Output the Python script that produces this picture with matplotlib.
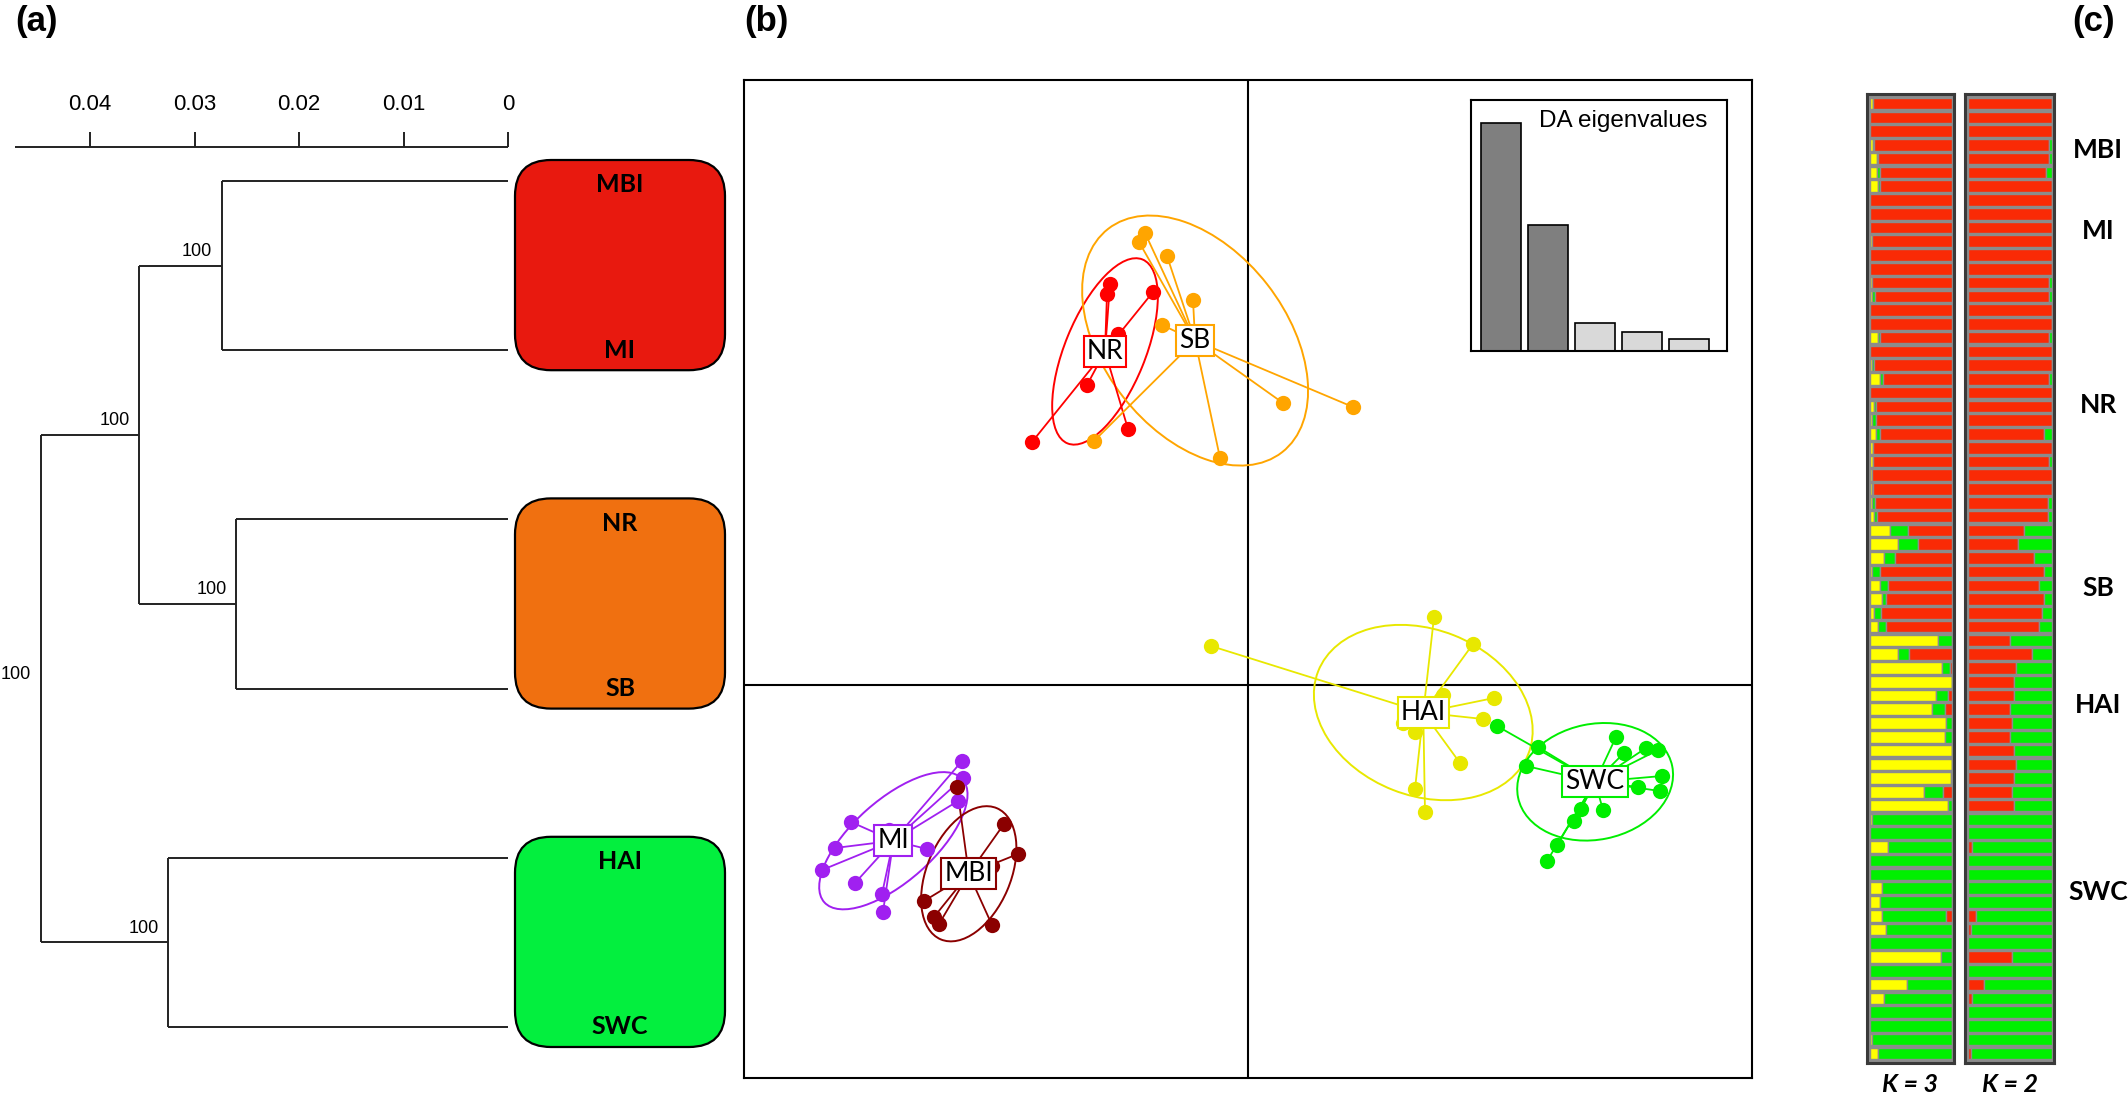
import numpy as np
import matplotlib
matplotlib.use("Agg")
import matplotlib.pyplot as plt
from matplotlib.patches import Ellipse, FancyBboxPatch

W, H = 2128, 1097

# ---------------- (a) tree data ----------------
tips = ["MBI", "MI", "NR", "SB", "HAI", "SWC"]
h_mbi_mi = 0.0274
h_nr_sb = 0.0260
h_hai_swc = 0.0325
h_north = 0.0353
h_root = 0.0447
support = [100, 100, 100, 100, 100]          # mbi_mi, nr_sb, north, hai_swc, root
scale_ticks = [0.04, 0.03, 0.02, 0.01, 0.0]
clade_colors = ["#E8190F", "#F07010", "#03EF3E"]

# ---------------- (b) DAPC data (LD1, LD2) ----------------
dapc_groups = ["NR", "SB", "MI", "MBI", "HAI", "SWC"]
dapc_colors = ["#FF0000", "#FFA500", "#A020F0", "#8B0000", "#E8E800", "#00EE00"]
NR_x = [-1.38, -1.41, -0.95, -1.30, -1.61, -1.20, -2.16]
NR_y = [4.01, 3.91, 3.93, 3.51, 3.00, 2.56, 2.43]
SB_x = [-1.03, -1.09, -0.81, -0.55, -0.86, 0.35, 1.05, -0.28, -1.54]
SB_y = [4.52, 4.43, 4.29, 3.85, 3.60, 2.82, 2.78, 2.27, 2.44]
MI_x = [-2.86, -2.85, -2.90, -3.59, -3.97, -4.13, -4.26, -3.93, -3.66, -3.65, -3.21]
MI_y = [-0.76, -0.93, -1.16, -1.45, -1.37, -1.63, -1.85, -1.98, -2.09, -2.27, -1.64]
MBI_x = [-2.91, -2.44, -2.30, -2.56, -2.89, -3.24, -3.14, -3.09, -2.56]
MBI_y = [-1.02, -1.39, -1.69, -1.81, -1.81, -2.16, -2.32, -2.39, -2.40]
HAI_x = [-0.37, 1.86, 2.25, 1.95, 2.46, 2.35, 1.55, 1.67, 2.12, 1.67, 1.77]
HAI_y = [0.39, 0.68, 0.41, -0.10, -0.13, -0.34, -0.38, -0.47, -0.78, -1.04, -1.27]
SWC_x = [2.49, 2.90, 2.78, 3.09, 2.99, 3.68, 3.98, 4.10, 4.14, 4.12, 3.90, 3.55, 3.33, 3.26, 3.76]
SWC_y = [-0.41, -0.62, -0.81, -1.60, -1.76, -0.52, -0.63, -0.65, -0.91, -1.06, -1.02, -1.25, -1.24, -1.36, -0.68]
eigenvalues = [228, 126, 28, 19, 12]
n_retained = 2

# ---------------- (c) admixture proportions ----------------
k3_yellow = [0.04, 0, 0, 0.04, 0.08, 0.09, 0.10, 0, 0, 0, 0.02, 0, 0, 0.02, 0.03, 0, 0, 0.10, 0, 0.03,
             0.12, 0, 0.05, 0.03, 0.07, 0.04, 0.04, 0.02, 0.02, 0.02, 0.05,
             0.24, 0.34, 0.17, 0.02, 0.12, 0.14, 0.05, 0.10,
             0.83, 0.34, 0.88, 1.0, 0.80, 0.75, 0.93, 0.91, 1.0, 1.0, 0.99, 0.66, 0.95,
             0.03, 0, 0.22, 0, 0, 0.15, 0.12, 0.15, 0.19, 0, 0.86, 0, 0.45, 0.17, 0, 0, 0.03, 0.10]
k3_green = [0, 0, 0, 0.01, 0.02, 0.03, 0.02, 0, 0, 0, 0, 0, 0, 0, 0.03, 0, 0, 0.02, 0, 0.02,
            0.04, 0, 0.02, 0.04, 0.05, 0, 0, 0, 0.02, 0.04, 0.03,
            0.22, 0.25, 0.14, 0.10, 0.10, 0.05, 0.08, 0.10,
            0.17, 0.13, 0.10, 0, 0.15, 0.17, 0.07, 0.09, 0, 0, 0.01, 0.23, 0.05,
            0.97, 1, 0.78, 1, 1, 0.85, 0.88, 0.78, 0.81, 1, 0.14, 1, 0.55, 0.83, 1, 1, 0.97, 0.90]
k3_red = [0.96, 1, 1, 0.95, 0.90, 0.88, 0.88, 1, 1, 1, 0.98, 1, 1, 0.98, 0.94, 1, 1, 0.88, 1, 0.95,
          0.84, 1, 0.93, 0.93, 0.88, 0.96, 0.96, 0.98, 0.96, 0.94, 0.92,
          0.54, 0.41, 0.69, 0.88, 0.78, 0.81, 0.87, 0.80,
          0, 0.53, 0.02, 0, 0.05, 0.08, 0, 0, 0, 0, 0, 0.11, 0,
          0, 0, 0, 0, 0, 0, 0, 0.07, 0, 0, 0, 0, 0, 0, 0, 0, 0, 0]
k2_red = [1, 1, 1, 0.97, 0.97, 0.93, 1, 1, 1, 1, 1, 1, 1, 0.97, 0.97, 1, 1, 0.97, 1, 1,
          0.97, 1, 1, 1, 0.90, 1, 0.97, 1, 1, 0.95, 0.95,
          0.67, 0.59, 0.78, 0.90, 0.85, 0.90, 0.88, 0.85,
          0.50, 0.76, 0.57, 0.55, 0.55, 0.50, 0.52, 0.50, 0.55, 0.57, 0.55, 0.52, 0.55,
          0, 0, 0.05, 0, 0, 0, 0, 0.10, 0.03, 0, 0.52, 0, 0.19, 0.05, 0, 0, 0, 0.03]
k2_green = [0, 0, 0, 0.03, 0.03, 0.07, 0, 0, 0, 0, 0, 0, 0, 0.03, 0.03, 0, 0, 0.03, 0, 0,
            0.03, 0, 0, 0, 0.10, 0, 0.03, 0, 0, 0.05, 0.05,
            0.33, 0.41, 0.22, 0.10, 0.15, 0.10, 0.12, 0.15,
            0.50, 0.24, 0.43, 0.45, 0.45, 0.50, 0.48, 0.50, 0.45, 0.43, 0.45, 0.48, 0.45,
            1, 1, 0.95, 1, 1, 1, 1, 0.90, 0.97, 1, 0.48, 1, 0.81, 0.95, 1, 1, 1, 0.97]
pop_labels = ["MBI", "MI", "NR", "SB", "HAI", "SWC"]
k_labels = ["K = 3", "K = 2"]

# ---------------- figure ----------------
fig = plt.figure(figsize=(W / 100, H / 100), dpi=100)
SANS = ["Liberation Sans", "DejaVu Sans"]
HUM = ["Lato", "DejaVu Sans"]


def px_axes(x0, y0, x1, y1, **kw):
    return fig.add_axes([x0 / W, 1 - y1 / H, (x1 - x0) / W, (y1 - y0) / H], **kw)


lay = px_axes(0, 0, W, H)
lay.set_xlim(0, W)
lay.set_ylim(H, 0)
lay.axis("off")

for lab, x in [("(a)", 15), ("(b)", 744), ("(c)", 2072)]:
    lay.text(x, 22, lab, fontsize=25, fontweight="bold", family=SANS, ha="left", va="center")

# ---------------- (a) tree ----------------
PX_PER_UNIT = 10450.0
axt = px_axes(0, 0, 508, H)
axt.set_xlim(508 / PX_PER_UNIT, 0)
axt.set_ylim(H, 0)
axt.axis("off")
LC = "#222222"
LW = 1.4
tip_y = [181 + 169.2 * i for i in range(len(tips))]   # layout of the six tips


def seg(x0, x1, y0, y1):
    axt.plot([x0, x1], [y0, y1], color=LC, lw=LW, solid_capstyle="butt", clip_on=False)


def cherry(h, ya, yb):
    seg(h, h, ya, yb)
    seg(h, 0, ya, ya)
    seg(h, 0, yb, yb)
    return (ya + yb) / 2


y_mm = cherry(h_mbi_mi, tip_y[0], tip_y[1])
y_ns = cherry(h_nr_sb, tip_y[2], tip_y[3])
y_hs = cherry(h_hai_swc, tip_y[4], tip_y[5])
seg(h_north, h_north, y_mm, y_ns)
seg(h_north, h_mbi_mi, y_mm, y_mm)
seg(h_north, h_nr_sb, y_ns, y_ns)
y_north = (y_mm + y_ns) / 2
seg(h_root, h_root, y_north, y_hs)
seg(h_root, h_north, y_north, y_north)
seg(h_root, h_hai_swc, y_hs, y_hs)
y_root = (y_north + y_hs) / 2

for (h, y), s in zip([(h_mbi_mi, y_mm), (h_nr_sb, y_ns), (h_north, y_north),
                      (h_hai_swc, y_hs), (h_root, y_root)], support):
    axt.annotate(str(s), (h, y), xytext=(-7, 4), textcoords="offset points",
                 ha="right", va="bottom", fontsize=13, family=SANS)

# scale bar
seg(0.0472, 0.0, 147, 147)
for t in scale_ticks:
    seg(t, t, 147, 132)
    axt.text(t, 104, f"{t:g}", ha="center", va="center", fontsize=16, family=SANS)

# clade boxes
R = 36
for i, c in enumerate(clade_colors):
    t, b = tip_y[2 * i] - 21, tip_y[2 * i + 1] + 20
    x0, x1 = 515, 725
    p = FancyBboxPatch((x0 + R, t + R), (x1 - x0) - 2 * R, (b - t) - 2 * R,
                       boxstyle=f"round,pad={R}", fc=c, ec="black", lw=1.6)
    lay.add_patch(p)
for i, (name, y) in enumerate(zip(tips, tip_y)):
    dy = 4 if i % 2 == 0 else 0
    lay.text(620, y + dy, name, ha="center", va="center", fontsize=18, fontweight="bold", family=HUM)

# ---------------- (b) DAPC ----------------
axb = px_axes(744, 80, 1752, 1078)
axb.set_xlim(-5.04, 5.04)
axb.set_ylim(-3.93, 6.05)
axb.set_xticks([])
axb.set_yticks([])
for s in axb.spines.values():
    s.set_linewidth(1.5)
axb.axhline(0, color="black", lw=1.5, zorder=1)
axb.axvline(0, color="black", lw=1.5, zorder=1)

data = {"NR": (NR_x, NR_y), "SB": (SB_x, SB_y), "MI": (MI_x, MI_y),
        "MBI": (MBI_x, MBI_y), "HAI": (HAI_x, HAI_y), "SWC": (SWC_x, SWC_y)}
for g, col in zip(dapc_groups, dapc_colors):
    x = np.array(data[g][0])
    y = np.array(data[g][1])
    cx, cy = x.mean(), y.mean()
    cov = np.cov(x, y, bias=True)
    vals, vecs = np.linalg.eigh(cov)
    ang = np.degrees(np.arctan2(vecs[1, 1], vecs[0, 1]))
    e = Ellipse((cx, cy), 2 * 1.5 * np.sqrt(vals[1]), 2 * 1.5 * np.sqrt(vals[0]), angle=ang,
                fill=False, ec=col, lw=1.4, zorder=2)
    axb.add_patch(e)
    for xi, yi in zip(x, y):
        axb.plot([cx, xi], [cy, yi], color=col, lw=1.3, zorder=3)
    axb.plot(x, y, "o", ms=11, color=col, mec="none", zorder=4)
    axb.text(cx, cy, g, ha="center", va="center", fontsize=19, family=HUM, zorder=6,
             bbox=dict(boxstyle="square,pad=0.12", fc="white", ec=col, lw=1.5))

# inset eigenvalues
axi = px_axes(1471, 100, 1727, 351)
axi.set_xlim(-0.638, 4.81)
axi.set_ylim(0, 251)
axi.set_xticks([])
axi.set_yticks([])
for s in axi.spines.values():
    s.set_linewidth(1.5)
bar_cols = ["#7F7F7F" if i < n_retained else "#D9D9D9" for i in range(len(eigenvalues))]
axi.bar(range(len(eigenvalues)), eigenvalues, width=0.85, color=bar_cols, edgecolor="black", lw=1.2)
axi.text(1539, 121, "DA eigenvalues", transform=lay.transData, ha="left", va="center",
         fontsize=17.5, family=SANS, clip_on=False, zorder=10)

# ---------------- (c) admixture ----------------
RED, YEL, GRN, GRY = "#FA2A05", "#FFFF00", "#00F000", "#8C8C8C"
n = len(k3_red)
rows = np.arange(n)


def admix_axes(x0, x1, comps, cols):
    ax = px_axes(x0, 94, x1, 1063)
    ax.set_facecolor(GRY)
    ax.set_xlim(-0.037, 1.024)
    ax.set_ylim(n - 0.3, -0.7)
    ax.set_xticks([])
    ax.set_yticks([])
    for s in ax.spines.values():
        s.set_linewidth(2.2)
        s.set_color("#3A3A3A")
    left = np.zeros(n)
    for comp, c in zip(comps, cols):
        comp = np.array(comp, dtype=float)
        ax.barh(rows, comp, left=left, height=0.84, color=c, edgecolor=GRY, lw=1.0)
        left += comp
    return ax


admix_axes(1867, 1954, [k3_yellow, k3_green, k3_red], [YEL, GRN, RED])
admix_axes(1965, 2054, [k2_red, k2_green], [RED, GRN])

for lab, y in zip(pop_labels, [150, 231, 405, 588, 705, 892]):
    lay.text(2098, y, lab, ha="center", va="center", fontsize=19, fontweight="bold", family=HUM)
for lab, x in zip(k_labels, [1910, 2010]):
    lay.text(x, 1084, lab, ha="center", va="center", fontsize=18, fontweight="bold",
             style="italic", family=HUM)

fig.savefig("out.png", dpi=100)
